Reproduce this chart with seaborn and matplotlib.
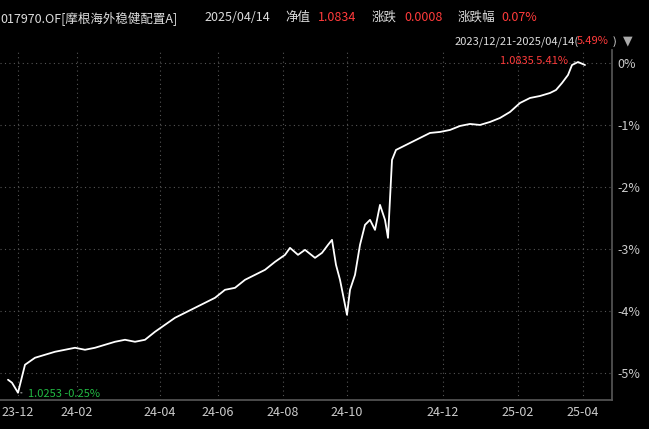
import matplotlib
matplotlib.use("Agg")
import matplotlib.pyplot as plt
import seaborn as sns
import pandas as pd

sns.set_theme(style="dark")
plt.rcParams['font.family'] = ['Noto Sans CJK SC', 'DejaVu Sans']

xpos = [8,12,18,25,35,45,55,65,75,85,95,105,115,125,135,145,155,165,175,185,195,205,215,225,235,245,255,265,275,285,290,298,305,315,322,328,332,336,340,344,347,350,355,360,365,370,375,380,385,388,392,396,400,410,420,430,440,450,460,470,480,490,500,510,520,530,540,550,556,562,568,572,578,585]
ypix = [380,383,393,365,358,355,352,350,348,350,348,345,342,340,342,340,332,325,318,313,308,303,298,290,288,280,275,270,262,255,248,255,250,258,253,245,240,265,280,300,315,290,275,245,225,220,230,205,220,238,160,150,148,143,138,133,132,130,126,124,125,122,118,112,103,98,96,93,90,83,75,65,62,65]
values = [-(y-63)/62 for y in ypix]
tick_pos = [18,77,160,218,283,347,443,518,583]
tick_labels = ["23-12","24-02","24-04","24-06","24-08","24-10","24-12","25-02","25-04"]
ytick_vals = [0,-1,-2,-3,-4,-5]
ytick_labels = ["0%","-1%","-2%","-3%","-4%","-5%"]

df = pd.DataFrame({"x": xpos, "v": values})
fig = plt.figure(figsize=(6.49,4.29), dpi=100, facecolor="black")
ax = fig.add_axes([0, 29/429, 612/649, 350/429], facecolor="black")
sns.lineplot(data=df, x="x", y="v", ax=ax, color="white", lw=1.3)
ax.set_xlim(0,612); ax.set_ylim(-5.44,0.21)
ax.set_xlabel(""); ax.set_ylabel("")
ax.yaxis.tick_right()
ax.set_yticks(ytick_vals); ax.set_yticklabels(ytick_labels, color="#cccccc", fontsize=9)
ax.set_xticks(tick_pos); ax.set_xticklabels(tick_labels, color="#cccccc", fontsize=9)
ax.tick_params(length=0, pad=4)
ax.grid(True, color="#555555", ls=(0,(1,3)), lw=0.8)
for s in ax.spines.values(): s.set_visible(False)
ax.spines['right'].set_visible(True); ax.spines['right'].set_color("#555555")
ax.spines['bottom'].set_visible(True); ax.spines['bottom'].set_color("#555555")

ax.annotate("1.0835 5.41%", xy=(578, values[-2]), xytext=(568, values[-2]+0.02), color="#ff3b3b", fontsize=8, ha="right", va="center",
            arrowprops=dict(arrowstyle="-", color="#aaaaaa", lw=0.8))
ax.annotate("1.0253 -0.25%", xy=(18, values[2]), xytext=(28, values[2]-0.02), color="#22bb44", fontsize=8, ha="left", va="center",
            arrowprops=dict(arrowstyle="-", color="#aaaaaa", lw=0.8))

fig.text(0.0, 0.975, "017970.OF[摩根海外稳健配置A]", color="#dddddd", fontsize=9, va="top")
fig.text(0.315, 0.975, "2025/04/14", color="#dddddd", fontsize=9, va="top")
fig.text(0.44, 0.975, "净值", color="#dddddd", fontsize=9, va="top")
fig.text(0.49, 0.975, "1.0834", color="#ff3b3b", fontsize=9, va="top")
fig.text(0.573, 0.975, "涨跌", color="#dddddd", fontsize=9, va="top")
fig.text(0.623, 0.975, "0.0008", color="#ff3b3b", fontsize=9, va="top")
fig.text(0.705, 0.975, "涨跌幅", color="#dddddd", fontsize=9, va="top")
fig.text(0.772, 0.975, "0.07%", color="#ff3b3b", fontsize=9, va="top")
fig.text(0.7, 0.915, "2023/12/21-2025/04/14(", color="#dddddd", fontsize=8, va="top")
fig.text(0.888, 0.915, "5.49%", color="#ff3b3b", fontsize=8, va="top")
fig.text(0.944, 0.915, ")", color="#dddddd", fontsize=8, va="top")
fig.text(0.96, 0.92, "▼", color="#aaaaaa", fontsize=9, va="top", family="DejaVu Sans")
fig.savefig("out.png", dpi=100, facecolor="black")
